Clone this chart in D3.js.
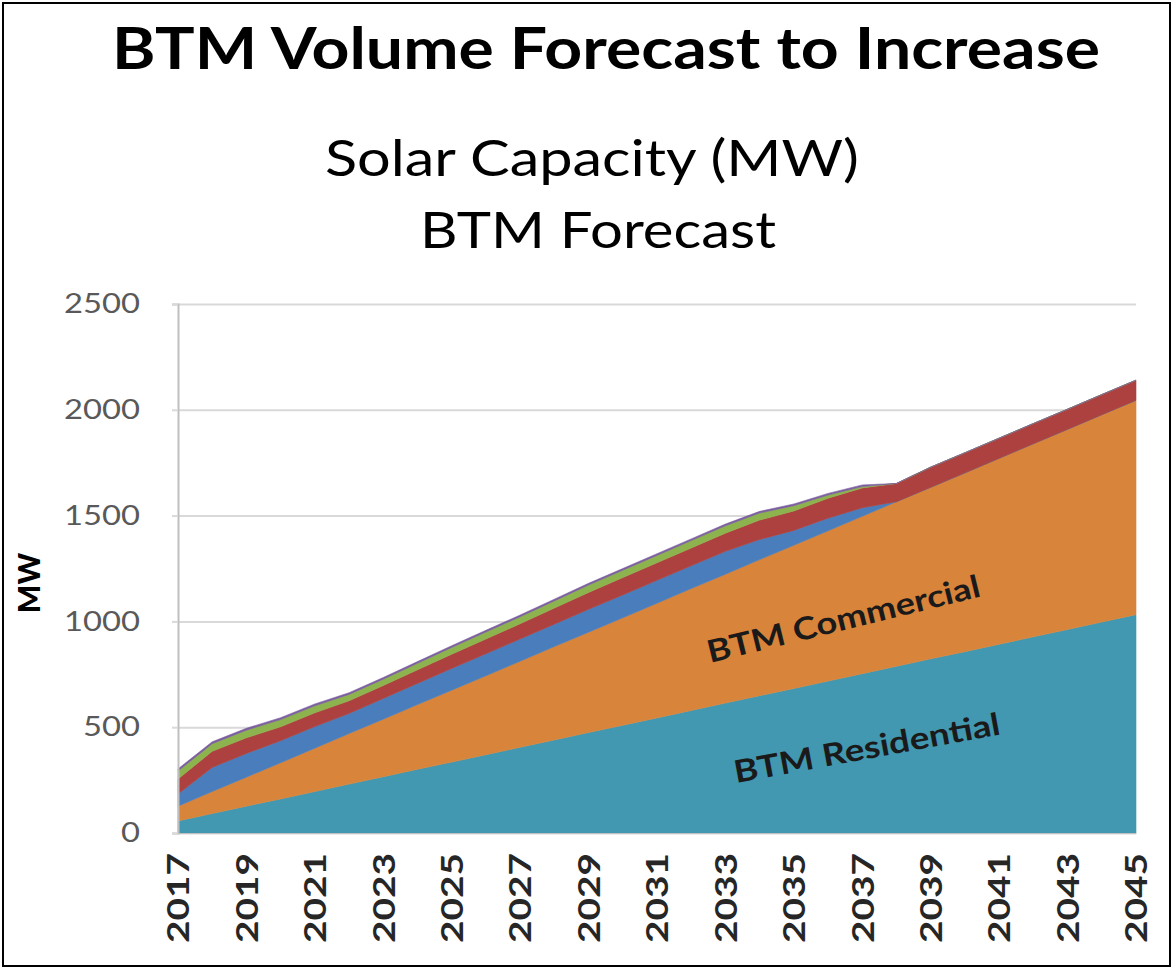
<!DOCTYPE html>
<html>
<head>
<meta charset="utf-8">
<script src="https://cdn.jsdelivr.net/npm/d3@7"></script>
<style>
  body { margin: 0; background: #fff; }
  svg { display: block; font-family: Lato, "Open Sans", sans-serif; }
</style>
</head>
<body>
<svg id="chart" width="1174" height="970"></svg>
<script>
// data (MW)
var years = [2017, 2018, 2019, 2020, 2021, 2022, 2023, 2024, 2025, 2026,
             2027, 2028, 2029, 2030, 2031, 2032, 2033, 2034, 2035, 2036,
             2037, 2038, 2039, 2040, 2041, 2042, 2043, 2044, 2045];
var residential = [57, 92, 127, 161, 196, 231, 266, 301, 335, 370,
                   405, 440, 475, 509, 544, 579, 614, 649, 683, 718,
                   753, 788, 823, 857, 892, 927, 962, 997, 1032];
var commercial = [70, 104, 137, 171, 205, 239, 272, 306, 340, 373,
                  407, 441, 474, 508, 542, 576, 609, 643, 677, 710,
                  744, 778, 811, 845, 879, 913, 946, 980, 1013];
var seriesBlue = [57, 114, 112, 104, 102, 95, 98, 100, 103, 104,
                  105, 106, 108, 108, 108, 108, 108, 95, 70, 60,
                  40, 0, 0, 0, 0, 0, 0, 0, 0];
var seriesRed = [71, 76, 74, 66, 65, 60, 61, 64, 67, 70,
                 72, 76, 80, 82, 83, 84, 86, 92, 92, 94,
                 94, 86, 95, 95, 95, 95, 95, 95, 95];
var seriesGreen = [38, 36, 36, 34, 33, 30, 30, 31, 32, 33,
                   33, 34, 35, 35, 35, 35, 35, 33, 25, 15,
                   6, 0, 0, 0, 0, 0, 0, 0, 0];
var seriesPurple = [10, 9, 9, 9, 9, 8, 8, 8, 8, 8,
                    8, 8, 8, 8, 8, 8, 8, 8, 8, 8,
                    8, 0, 0, 0, 0, 0, 0, 0, 0];

var keys = ["res", "com", "blue", "red", "green", "purple"];
var colors = ["#4298b1", "#d9843b", "#4a7dbb", "#ad413f", "#8db34e", "#7b5e9f"];
var yTicks = [0, 500, 1000, 1500, 2000, 2500];
var xTickYears = [2017, 2019, 2021, 2023, 2025, 2027, 2029, 2031,
                  2033, 2035, 2037, 2039, 2041, 2043, 2045];

var table = years.map(function (y, i) {
    return { year: y, res: residential[i], com: commercial[i], blue: seriesBlue[i],
             red: seriesRed[i], green: seriesGreen[i], purple: seriesPurple[i] };
});

var svg = d3.select("#chart");

var x = d3.scaleLinear().domain([2017, 2045]).range([178, 1136]),
    y = d3.scaleLinear().domain([0, 2500]).range([833, 304]);

// frame
svg.append("rect")
    .attr("x", 3).attr("y", 3).attr("width", 1167).attr("height", 963)
    .attr("fill", "none").attr("stroke", "#000").attr("stroke-width", 2);

// titles
svg.append("text")
    .attr("x", 606).attr("y", 69)
    .attr("text-anchor", "middle")
    .attr("font-size", "58px").attr("font-weight", "bold")
    .attr("textLength", 988).attr("lengthAdjust", "spacingAndGlyphs")
    .text("BTM Volume Forecast to Increase");

svg.append("text")
    .attr("x", 592).attr("y", 176)
    .attr("text-anchor", "middle")
    .attr("font-size", "50px")
    .attr("textLength", 534).attr("lengthAdjust", "spacingAndGlyphs")
    .text("Solar Capacity (MW)");

svg.append("text")
    .attr("x", 598).attr("y", 248)
    .attr("text-anchor", "middle")
    .attr("font-size", "50px")
    .attr("textLength", 356).attr("lengthAdjust", "spacingAndGlyphs")
    .text("BTM Forecast");

// gridlines
svg.append("g")
    .attr("transform", "translate(178,0)")
    .call(d3.axisLeft(y).tickValues(yTicks).tickSize(-(1136 - 178)).tickFormat(""))
    .call(function (g) { g.select(".domain").remove(); })
    .selectAll("line")
    .attr("stroke", "#d9d9d9").attr("stroke-width", 2);

// stacked areas
var stack = d3.stack().keys(keys);
var layers = stack(table);

var area = d3.area()
    .x(function (d) { return x(d.data.year); })
    .y0(function (d) { return y(d[0]); })
    .y1(function (d) { return y(d[1]); });

svg.append("g")
    .selectAll("path")
    .data(layers)
    .enter()
    .append("path")
    .attr("d", area)
    .attr("fill", function (d, i) { return colors[i]; })
    .attr("stroke", function (d, i) { return colors[i]; })
    .attr("stroke-width", 0.6);

// y axis
var yAxis = svg.append("g")
    .attr("transform", "translate(178,0)")
    .call(d3.axisLeft(y).tickValues(yTicks).tickSize(6).tickPadding(32).tickFormat(d3.format("d")));
yAxis.select(".domain").attr("stroke", "#bfbfbf").attr("stroke-width", 2);
yAxis.selectAll("line").attr("stroke", "#d9d9d9").attr("stroke-width", 2);
yAxis.selectAll("text")
    .attr("font-family", "Lato, sans-serif")
    .attr("font-size", "27px")
    .attr("fill", "#595959")
    .attr("textLength", function (d) { return String(d).length * 19; })
    .attr("lengthAdjust", "spacingAndGlyphs");

// x axis
var xAxis = svg.append("g")
    .attr("transform", "translate(0,833)")
    .call(d3.axisBottom(x).tickValues(xTickYears).tickSize(0).tickFormat(d3.format("d")));
xAxis.select(".domain").attr("stroke", "#bfbfbf").attr("stroke-width", 1);
xAxis.selectAll("text")
    .attr("font-family", "Lato, sans-serif")
    .attr("font-size", "30px")
    .attr("font-weight", "bold")
    .attr("fill", "#262626")
    .attr("text-anchor", "end")
    .attr("transform", "rotate(-90)")
    .attr("x", -20)
    .attr("y", 0)
    .attr("dy", "0.36em")
    .attr("textLength", 90)
    .attr("lengthAdjust", "spacingAndGlyphs");

// y label
svg.append("text")
    .attr("transform", "translate(40,583) rotate(-90)")
    .attr("text-anchor", "middle")
    .attr("font-size", "30px").attr("font-weight", "900")
    .text("MW");

// in-area labels
svg.append("text")
    .attr("transform", "translate(710,663) rotate(-13.8)")
    .attr("font-size", "31px").attr("font-weight", "bold")
    .attr("fill", "#1a1a1a")
    .attr("textLength", 280).attr("lengthAdjust", "spacingAndGlyphs")
    .text("BTM Commercial");

svg.append("text")
    .attr("transform", "translate(736,783) rotate(-10.4)")
    .attr("font-size", "31px").attr("font-weight", "bold")
    .attr("fill", "#1a1a1a")
    .attr("textLength", 270).attr("lengthAdjust", "spacingAndGlyphs")
    .text("BTM Residential");
</script>
</body>
</html>
